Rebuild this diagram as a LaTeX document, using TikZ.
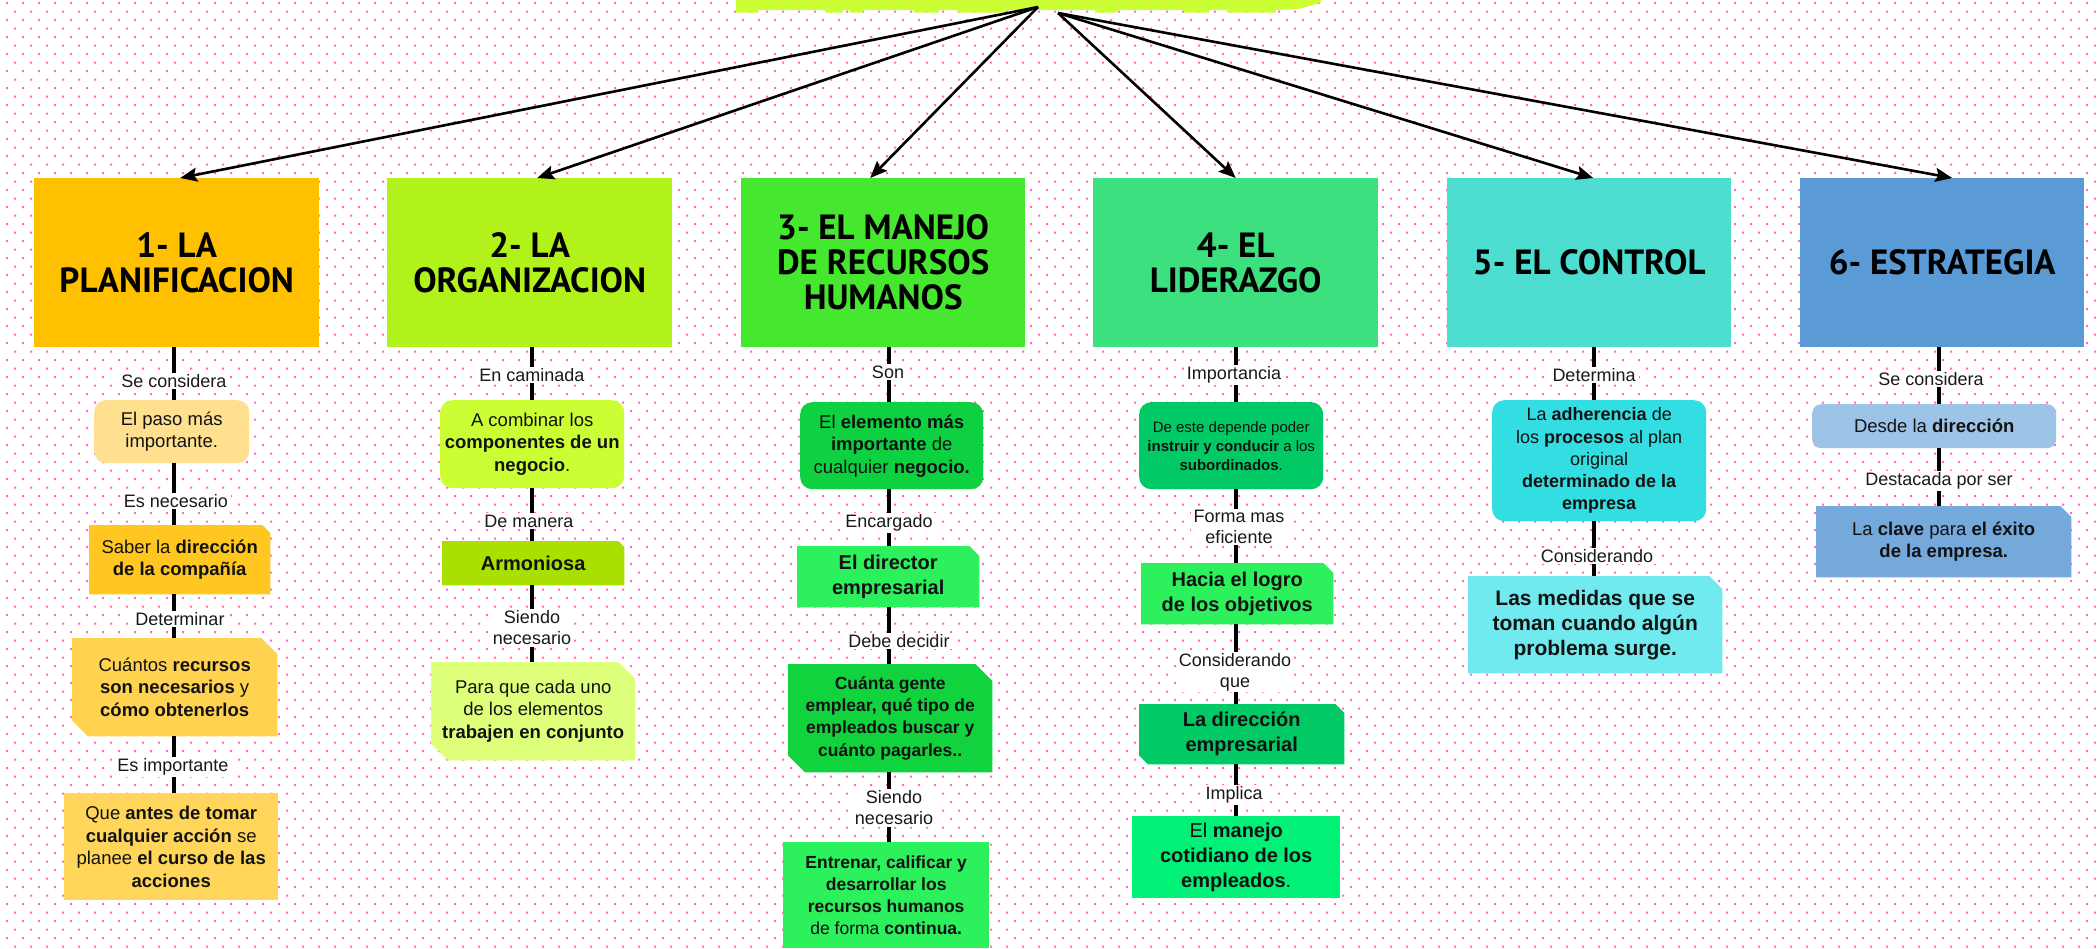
\documentclass[tikz,border=0pt]{standalone}
\usepackage{fontspec}
\setmainfont{Liberation Sans}
\newfontfamily\titlefont{PT Sans}
\usetikzlibrary{arrows.meta}

\definecolor{dotpink}{HTML}{FF66CC}
\definecolor{titlegreen}{HTML}{CCFF33}
\definecolor{cMa}{HTML}{FFC000}
\definecolor{cMb}{HTML}{B2F21B}
\definecolor{cMc}{HTML}{46E82F}
\definecolor{cMd}{HTML}{3CE07E}
\definecolor{cMe}{HTML}{4DDDD1}
\definecolor{cMf}{HTML}{5B9BD5}
\definecolor{ca1}{HTML}{FFE08F}
\definecolor{ca2}{HTML}{FFC71F}
\definecolor{ca3}{HTML}{FFD34F}
\definecolor{ca4}{HTML}{FFD65A}
\definecolor{cb1}{HTML}{CCFF33}
\definecolor{cb2}{HTML}{A9E000}
\definecolor{cb3}{HTML}{DEFF7A}
\definecolor{cc1}{HTML}{0DD141}
\definecolor{cc2}{HTML}{2DF05D}
\definecolor{cc3}{HTML}{10D33E}
\definecolor{cd1}{HTML}{00C965}
\definecolor{cd4}{HTML}{00F078}
\definecolor{ce1}{HTML}{33DEE3}
\definecolor{ce2}{HTML}{70EAEE}
\definecolor{cf1}{HTML}{9DC3E6}
\definecolor{cf2}{HTML}{75A9DC}

\pgfdeclarelayer{dotlayer}
\pgfdeclarelayer{filllayer}
\pgfsetlayers{dotlayer,filllayer,main}

\newcommand\fillTR[3]{\fill[#2] (#1.north west) -- ([xshift=-#3bp]#1.north east) -- ([yshift=-#3bp]#1.north east) -- (#1.south east) -- (#1.south west) -- cycle;}
\newcommand\fillTRBL[3]{\fill[#2] (#1.north west) -- ([xshift=-#3bp]#1.north east) -- ([yshift=-#3bp]#1.north east) -- (#1.south east) -- ([xshift=#3bp]#1.south west) -- ([yshift=#3bp]#1.south west) -- cycle;}

\tikzset{
  mainbox/.style={anchor=north west, inner sep=0pt, align=center, minimum width=285bp, minimum height=169bp,
    font=\titlefont\bfseries\fontsize{35bp}{35bp}\selectfont},
  box/.style={anchor=north west, inner sep=0pt, align=center, text=black!93},
  rbox/.style={box, rounded corners=12bp},
  tA/.style={font=\fontsize{18.5bp}{22.5bp}\selectfont},
  tB/.style={font=\fontsize{20bp}{25bp}\selectfont},
  tC/.style={font=\fontsize{17.5bp}{22.3bp}\selectfont},
  tD/.style={font=\fontsize{15bp}{19bp}\selectfont},
  tE/.style={font=\fontsize{21bp}{25bp}\selectfont},
  lab/.style={fill=white, inner xsep=3bp, inner ysep=1.5bp, align=center, text=black!90,
    font=\fontsize{18bp}{21bp}\selectfont},
  vline/.style={line width=4bp, black},
  arr/.style={line width=2.6bp, black, -{Stealth[length=17bp,width=14bp,inset=3bp]}},
}

\begin{document}
\begin{tikzpicture}[x=1bp,y=-1bp]
\useasboundingbox (0,0) rectangle (2098,949);
\begin{pgfonlayer}{dotlayer}
  \fill[white] (0,0) rectangle (2098,949);
  \foreach \j in {0,...,111}{
    \pgfmathsetmacro{\yy}{2 + 8.5*\j}
    \pgfmathsetmacro{\xo}{isodd(\j) ? 14 : 6}
    \fill[dotpink] foreach \i in {0,...,130} { (\xo+16*\i,\yy) rectangle ++(2,2) };
  }
\end{pgfonlayer}

% title bar (cut off at top)
\fill[titlegreen] (736,-1) -- (1322,-1) -- (1320,3) -- (1298,9) -- (1276,10) -- (1276,12.5) -- (1227,12.5) -- (1227,10) -- (1209,10)
  -- (1209,12.5) -- (1184,12.5) -- (1184,10) -- (1117,10) -- (1117,12.5) -- (1095,12.5) -- (1095,10) -- (1006,10)
  -- (1006,12.5) -- (957,12.5) -- (957,10) -- (939,10) -- (939,12.5) -- (914,12.5) -- (914,10) -- (863,10) -- (863,12.5)
  -- (850,12.5) -- (850,10) -- (843,10) -- (843,12.5) -- (825,12.5) -- (825,10) -- (758,10) -- (758,12.5) -- (736,12.5) -- cycle;
\coordinate (oL) at (1038,7);
\coordinate (oR) at (1058,13);

% main boxes
\node[mainbox, fill=cMa] (M1) at (34,178) {1- LA\\PLANIFICACION};
\node[mainbox, fill=cMb] (M2) at (387,178) {2- LA\\ORGANIZACION};
\node[mainbox, fill=cMc, minimum width=284bp] (M3) at (741,178) {3- EL MANEJO\\DE RECURSOS\\HUMANOS};
\node[mainbox, fill=cMd] (M4) at (1093,178) {4- EL\\LIDERAZGO};
\node[mainbox, fill=cMe, minimum width=284bp] (M5) at (1447,178) {5- EL CONTROL};
\node[mainbox, fill=cMf, minimum width=284bp] (M6) at (1800,178) {6- ESTRATEGIA};

% arrows
\draw[arr] (oL) -- ([xshift=3.5bp]M1.north);
\draw[arr] (oL) -- ([xshift=7.5bp]M2.north);
\draw[arr] (oL) -- ([xshift=-13bp]M3.north);
\draw[arr] (oR) -- (M4.north);
\draw[arr] (oR) -- ([xshift=4bp]M5.north);
\draw[arr] (oR) -- ([xshift=10bp]M6.north);

% column line positions
\coordinate (L1) at (174,0);
\coordinate (L2) at (532,0);
\coordinate (L3) at (889,0);
\coordinate (L4) at (1236,0);
\coordinate (L5) at (1594,0);
\coordinate (L6) at (1939,0);

% column 1
\node[rbox, tA, fill=ca1, minimum width=155bp, minimum height=63bp] (a1) at (94,400) {El paso más\\importante.};
\node[box, tA, minimum width=181bp, minimum height=69bp] (a2) at (89,525) {Saber la \textbf{dirección}\\\textbf{de la compañía}};
\node[box, tA, minimum width=205bp, minimum height=98bp] (a3) at (72,638) {Cuántos \textbf{recursos}\\\textbf{son necesarios} y\\\textbf{cómo obtenerlos}};
\node[box, tA, fill=ca4, minimum width=214bp, minimum height=107bp] (a4) at (64,793) {Que \textbf{antes de tomar}\\\textbf{cualquier acción} se\\planee \textbf{el curso de las}\\\textbf{acciones}};

% column 2
\node[rbox, tA, fill=cb1, minimum width=184bp, minimum height=88bp] (b1) at (440,400) {A combinar los\\\textbf{componentes de un}\\\textbf{negocio}.};
\node[box, tB, minimum width=182bp, minimum height=44bp] (b2) at (442,541) {\textbf{Armoniosa}};
\node[box, tA, minimum width=204bp, minimum height=98bp] (b3) at (431,662) {Para que cada uno\\de los elementos\\\textbf{trabajen en conjunto}};

% column 3
\node[rbox, tA, fill=cc1, minimum width=183bp, minimum height=87bp] (c1) at (800,402) {El \textbf{elemento más}\\\textbf{importante} de\\cualquier \textbf{negocio.}};
\node[box, tB, minimum width=182bp, minimum height=61bp] (c2) at (797,546) {\textbf{El director}\\\textbf{empresarial}};
\node[box, tC, minimum width=204bp, minimum height=108bp] (c3) at (788,664) {\textbf{Cuánta gente}\\\textbf{emplear, qué tipo de}\\\textbf{empleados buscar y}\\\textbf{cuánto pagarles..}};
\node[box, tC, fill=cc2, minimum width=206bp, minimum height=106bp] (c4) at (783,842) {\textbf{Entrenar, calificar y}\\\textbf{desarrollar los}\\\textbf{recursos humanos}\\de forma \textbf{continua.}};

% column 4
\node[rbox, tD, fill=cd1, minimum width=184bp, minimum height=87bp] (d1) at (1139,402) {De este depende poder\\\textbf{instruir y conducir} a los\\\textbf{subordinados}.};
\node[box, tB, minimum width=192bp, minimum height=61bp] (d2) at (1141,563) {\textbf{Hacia el logro}\\\textbf{de los objetivos}};
\node[box, tB, minimum width=205bp, minimum height=60bp] (d3) at (1139,704) {\textbf{La dirección}\\\textbf{empresarial}};
\node[box, tB, fill=cd4, minimum width=208bp, minimum height=82bp] (d4) at (1132,816) {El \textbf{manejo}\\\textbf{cotidiano de los}\\\textbf{empleados}.};

% column 5
\node[rbox, tA, fill=ce1, minimum width=214bp, minimum height=121bp, font=\fontsize{18bp}{22.3bp}\selectfont] (e1) at (1492,400) {La \textbf{adherencia} de\\los \textbf{procesos} al plan\\original\\\textbf{determinado de la}\\\textbf{empresa}};
\node[box, tE, minimum width=254bp, minimum height=97bp] (e2) at (1468,576) {\textbf{Las medidas que se}\\\textbf{toman cuando algún}\\\textbf{problema surge.}};

% column 6
\node[box, tA, fill=cf1, rounded corners=9bp, minimum width=244bp, minimum height=44bp] (f1) at (1812,404) {Desde la \textbf{dirección}};
\node[box, tA, minimum width=255bp, minimum height=71bp] (f2) at (1816,506) {La \textbf{clave} para \textbf{el éxito}\\\textbf{de la empresa.}};

% cut-corner fills
\begin{pgfonlayer}{filllayer}
  \fillTR{a2}{ca2}{8}
  \fillTRBL{a3}{ca3}{16}
  \fillTR{b2}{cb2}{6}
  \fillTRBL{b3}{cb3}{17}
  \fillTR{c2}{cc2}{10}
  \fillTRBL{c3}{cc3}{17}
  \fillTR{d2}{cc2}{10}
  \fillTRBL{d3}{cd1}{9}
  \fillTR{e2}{ce2}{13}
  \fillTR{f2}{cf2}{11}
\end{pgfonlayer}

% vertical connectors
\draw[vline] (M1.south -| L1) -- (a1.north -| L1);
\draw[vline] (a1.south -| L1) -- (a2.north -| L1);
\draw[vline] (a2.south -| L1) -- (a3.north -| L1);
\draw[vline] (a3.south -| L1) -- (a4.north -| L1);
\draw[vline] (M2.south -| L2) -- (b1.north -| L2);
\draw[vline] (b1.south -| L2) -- (b2.north -| L2);
\draw[vline] (b2.south -| L2) -- (b3.north -| L2);
\draw[vline] (M3.south -| L3) -- (c1.north -| L3);
\draw[vline] (c1.south -| L3) -- (c2.north -| L3);
\draw[vline] (c2.south -| L3) -- (c3.north -| L3);
\draw[vline] (c3.south -| L3) -- (c4.north -| L3);
\draw[vline] (M4.south -| L4) -- (d1.north -| L4);
\draw[vline] (d1.south -| L4) -- (d2.north -| L4);
\draw[vline] (d2.south -| L4) -- (d3.north -| L4);
\draw[vline] (d3.south -| L4) -- (d4.north -| L4);
\draw[vline] (M5.south -| L5) -- (e1.north -| L5);
\draw[vline] (e1.south -| L5) -- (e2.north -| L5);
\draw[vline] (M6.south -| L6) -- (f1.north -| L6);
\draw[vline] (f1.south -| L6) -- (f2.north -| L6);

% connector labels
\node[lab] (la1) at (174,381) {Se considera};
\node[lab] (la2) at (176,501) {Es necesario};
\node[lab] (la3) at (180,619) {Determinar};
\node[lab] (la4) at (173,767) {Es importante};
\node[lab] (lb1) at (532,375) {En caminada};
\node[lab] (lb2) at (529,521) {De manera};
\node[lab] (lb3) at (532,628) {Siendo\\necesario};
\node[lab] (lc1) at (888,372) {Son};
\node[lab] (lc2) at (889,523) {Encargado};
\node[lab] (lc3) at (899,641) {Debe decidir};
\node[lab] (lc4) at (894,808) {Siendo\\necesario};
\node[lab] (ld1) at (1234,375) {Importancia};
\node[lab] (ld2) at (1239,527) {Forma mas\\eficiente};
\node[lab] (ld3) at (1235,672) {Considerando\\que};
\node[lab] (ld4) at (1234,795) {Implica};
\node[lab] (le1) at (1594,375) {Determina};
\node[lab] (le2) at (1597,556) {Considerando};
\node[lab] (lf1) at (1931,379) {Se considera};
\node[lab] (lf2) at (1939,481) {Destacada por ser};
\end{tikzpicture}
\end{document}
